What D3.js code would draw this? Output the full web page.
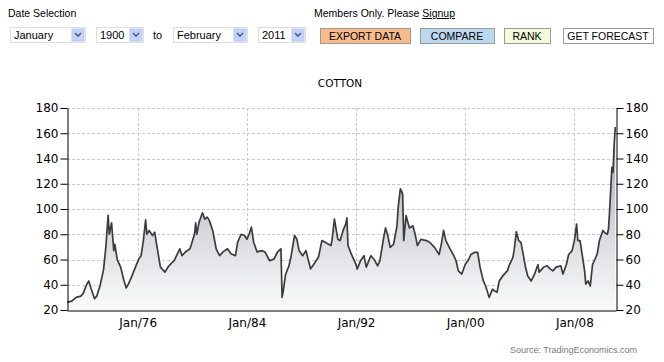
<!DOCTYPE html>
<html>
<head>
<meta charset="utf-8">
<script src="https://cdn.jsdelivr.net/npm/d3@7"></script>
<style>
body { margin:0; background:#fff; }
svg { display:block; }
</style>
</head>
<body>
<svg id="chart" width="664" height="362"></svg>
<script>
// cotton price (month, US cents/lb)
var dates = ["1970-11","1971-03","1971-07","1971-11","1972-01","1972-04","1972-06","1972-08","1972-11","1973-01",
  "1973-04","1973-07","1973-09","1973-11","1973-12","1974-02","1974-04","1974-05","1974-07","1974-10",
  "1975-01","1975-03","1975-05","1975-08","1975-11","1976-02","1976-04","1976-06","1976-08","1976-09",
  "1976-11","1977-02","1977-04","1977-06","1977-09","1978-01","1978-04","1978-09","1979-02","1979-04",
  "1979-07","1979-11","1980-03","1980-04","1980-05","1980-07","1980-10","1980-12","1981-02","1981-04",
  "1981-07","1981-10","1982-01","1982-04","1982-08","1982-11","1983-03","1983-05","1983-08","1983-11",
  "1984-01","1984-03","1984-05","1984-07","1984-10","1985-02","1985-05","1985-09","1986-01","1986-04",
  "1986-07","1986-08","1986-09","1986-11","1987-02","1987-04","1987-07","1987-09","1987-11","1988-02",
  "1988-05","1988-09","1988-11","1989-04","1989-07","1989-10","1990-03","1990-04","1990-06","1990-09",
  "1990-11","1991-02","1991-04","1991-05","1991-06","1991-09","1992-01","1992-02","1992-05","1992-08",
  "1992-10","1993-02","1993-05","1993-08","1993-10","1994-01","1994-03","1994-05","1994-07","1994-10",
  "1995-01","1995-02","1995-04","1995-05","1995-06","1995-07","1995-09","1995-12","1996-03","1996-05",
  "1996-07","1996-10","1997-03","1997-06","1997-10","1998-02","1998-04","1998-06","1998-08","1998-11",
  "1999-03","1999-05","1999-07","1999-10","2000-01","2000-04","2000-06","2000-09","2000-12","2001-02",
  "2001-05","2001-07","2001-10","2002-01","2002-03","2002-05","2002-07","2002-10","2003-02","2003-04",
  "2003-07","2003-08","2003-10","2003-12","2004-02","2004-04","2004-06","2004-08","2004-11","2005-02",
  "2005-05","2005-06","2005-10","2006-01","2006-04","2006-06","2006-09","2007-01","2007-03","2007-06",
  "2007-08","2007-11","2008-01","2008-03","2008-04","2008-06","2008-08","2008-10","2008-11","2009-01",
  "2009-03","2009-05","2009-07","2009-09","2009-11","2010-02","2010-04","2010-06","2010-07","2010-08",
  "2010-10","2010-11","2010-12","2011-01"];
var prices = [26,27,30,31,33,40,43,37,29,31,
  39.5,52,70,95,80,89,67,72,60,54,
  43,37.5,40.7,47,54,60.5,63,75,91.5,80,
  83,79,81.7,70,54,50,54.5,59,68.5,63,
  66,68.5,80,89,80,89.6,97,92,93.6,91,
  83,68.5,63,66,68.5,64.5,63,73.7,80,79,
  76,80,85.6,73.7,66,67,66,59,60.5,66,
  68.5,30,35,48,55,63,79,76,67,63,
  67,52.6,55,62,75,73.7,71,76,92,76,
  75,84,88,93,71,64,56,52.4,59,63,
  54,63,60,55,59,76,85,79,69.6,72,
  86.7,101,116,114.5,112,75,94.7,85,86.7,80,
  71,76,75,73.5,69.6,64,72,83,75,69.6,
  63,59,51,48.5,56,60,64,65.6,65.6,54,
  43,39,30,36.5,35,34,43,47,51,56,
  61.6,67,82,75,73.5,64,54,47,43,48.5,
  56,50,54,55,52.4,51,54,55,48.5,56,
  64,67,75,88,75,75,63,51,40.5,43,
  39,56,60,64,75,83,81,80,84,98.6,
  133,129,151.5,165];

var yTicks = [20,40,60,80,100,120,140,160,180];
var xTickYears = [1976,1984,1992,2000,2008];

var months = ["January","1900","February","2011"];
var buttons = ["EXPORT DATA","COMPARE","RANK","GET FORECAST"];
var buttonColors = ["#f9bb8c","#bcd8ee","#f2fbda","#ffffff"];

var svg = d3.select("#chart");
var parse = d3.timeParse("%Y-%m");
var data = dates.map(function(d,i){ return {date: parse(d), value: prices[i]}; });

// --- top controls ---
var ui = svg.append("g").style("font-family","'Liberation Sans', Arial, sans-serif");
ui.append("text").attr("x",8).attr("y",17).attr("font-size",10.5).attr("fill","#000").text("Date Selection");
var mem = ui.append("text").attr("x",314).attr("y",17).attr("font-size",10.5).attr("fill","#000");
mem.append("tspan").text("Members Only. Please ");
mem.append("tspan").attr("text-decoration","underline").text("Signup");

var selBoxes = [[10,75],[96,47],[173,74],[258,47]];
selBoxes.forEach(function(b,i){
  var g = ui.append("g");
  g.append("rect").attr("x",b[0]+0.5).attr("y",27.5).attr("width",b[1]).attr("height",15)
    .attr("fill","#fff").attr("stroke","#dedede");
  g.append("text").attr("x",b[0]+4).attr("y",39).attr("font-size",11).text(months[i]);
  var ax = b[0]+b[1]-13;
  g.append("rect").attr("x",ax).attr("y",29).attr("width",12).attr("height",12)
    .attr("fill","#c4d3f6").attr("stroke","#b4c6ee");
  g.append("path").attr("d","M"+(ax+3)+",33 L"+(ax+6)+",36 L"+(ax+9)+",33")
    .attr("fill","none").attr("stroke","#4a5f9a").attr("stroke-width",1.6);
});
ui.append("text").attr("x",153).attr("y",39).attr("font-size",11).text("to");

var btnBoxes = [[320,90],[420,74],[504,46],[563,90]];
btnBoxes.forEach(function(b,i){
  ui.append("rect").attr("x",b[0]+0.5).attr("y",28.5).attr("width",b[1]).attr("height",15)
    .attr("fill",buttonColors[i]).attr("stroke","#9a9a9a");
  ui.append("text").attr("x",b[0]+b[1]/2).attr("y",40).attr("text-anchor","middle")
    .attr("font-size",10.5).text(buttons[i]);
});

// --- chart ---
var pLeft = 67, pRight = 616, pTop = 108, pBottom = 310;
var x = d3.scaleTime().domain([new Date(1970,9,27), new Date(2011,0,19)]).range([pLeft,pRight]);
var y = d3.scaleLinear().domain([20,180]).range([pBottom,pTop]);

svg.append("text").attr("x",340).attr("y",87).attr("text-anchor","middle")
  .style("font-family","'DejaVu Sans', Verdana, sans-serif").attr("font-size",10.5)
  .attr("fill","#000").text("COTTON");

var defs = svg.append("defs");
var grad = defs.append("linearGradient").attr("id","areaGrad")
  .attr("gradientUnits","userSpaceOnUse").attr("x1",0).attr("x2",0).attr("y1",pTop).attr("y2",pBottom);
grad.append("stop").attr("offset","0%").style("stop-color","#9ca1ad");
grad.append("stop").attr("offset","100%").style("stop-color","#fbfbfc");

// grid
var grid = svg.append("g");
grid.selectAll(".hg").data(yTicks.filter(function(d){return d>20;})).enter().append("line")
  .attr("x1",pLeft).attr("x2",pRight).attr("y1",function(d){return Math.round(y(d))+0.5;})
  .attr("y2",function(d){return Math.round(y(d))+0.5;})
  .attr("stroke","#c9c9c9").attr("stroke-dasharray","3,2");
grid.selectAll(".vg").data(xTickYears).enter().append("line")
  .attr("x1",function(d){return Math.round(x(new Date(d,0,1)))+0.5;})
  .attr("x2",function(d){return Math.round(x(new Date(d,0,1)))+0.5;})
  .attr("y1",pTop).attr("y2",pBottom)
  .attr("stroke","#c9c9c9").attr("stroke-dasharray","3,2");

var area = d3.area().x(function(d){return x(d.date);}).y0(pBottom).y1(function(d){return y(d.value);});
var line = d3.line().x(function(d){return x(d.date);}).y(function(d){return y(d.value);});

svg.append("path").datum(data).attr("d",area).attr("fill","url(#areaGrad)");
svg.append("path").datum(data).attr("d",line).attr("fill","none")
  .attr("stroke","#3c3c3c").attr("stroke-width",1.7).attr("stroke-linejoin","round");

// axes
var fmt = d3.timeFormat("%b/%y");
var axisFont = "'DejaVu Sans', Verdana, sans-serif";
var gl = svg.append("g").attr("transform","translate("+(pLeft+0.5)+",0)")
  .call(d3.axisLeft(y).tickValues(yTicks).tickSize(7).tickSizeOuter(0).tickPadding(2));
var gr = svg.append("g").attr("transform","translate("+(pRight+0.5)+",0)")
  .call(d3.axisRight(y).tickValues(yTicks).tickSize(7).tickSizeOuter(0).tickPadding(2));
var gb = svg.append("g").attr("transform","translate(0,"+(pBottom+0.5)+")")
  .call(d3.axisBottom(x).tickValues(xTickYears.map(function(d){return new Date(d,0,1);}))
    .tickFormat(fmt).tickSize(0).tickSizeOuter(0).tickPadding(8));
[gl,gr,gb].forEach(function(g){
  g.selectAll("text").style("font-family",axisFont).attr("font-size",12).attr("fill","#000");
  g.selectAll("line,path").attr("stroke","#000");
});

svg.append("text").attr("x",637).attr("y",353).attr("text-anchor","end")
  .style("font-family","'Liberation Sans', Arial, sans-serif").attr("font-size",9)
  .attr("fill","#7a7a7a").text("Source: TradingEconomics.com");
</script>
</body>
</html>
